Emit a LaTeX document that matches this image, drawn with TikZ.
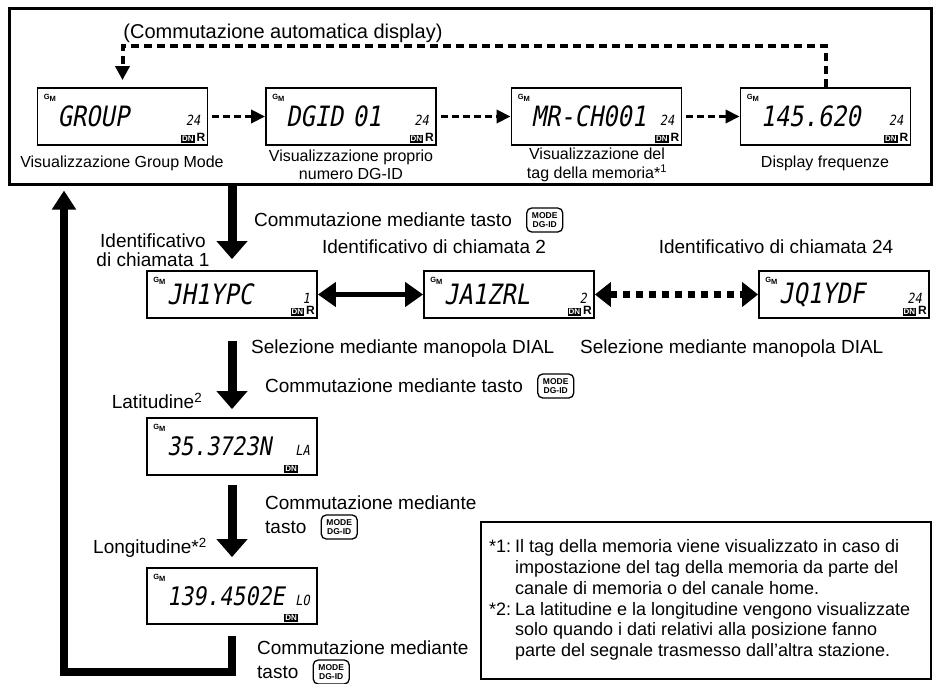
\documentclass[tikz,border=0pt]{standalone}
\usepackage{fontspec}
\setmainfont{Liberation Sans}
\newfontfamily\lcdfont{DejaVu Sans Mono}[FakeSlant=0.18, FakeStretch=0.85]
\usepackage{tikz}
\usetikzlibrary{arrows.meta, positioning}

\newcommand{\dnbox}{{\setlength{\fboxsep}{0.9pt}\colorbox{black}{\color{white}\fontsize{8}{8}\selectfont\bfseries DN}}}
\newcommand{\dnR}{\dnbox\hspace{2pt}{\fontsize{12}{12}\selectfont\bfseries R}}

\begin{document}
\begin{tikzpicture}[x=1pt, y=-1pt,
    lcd/.style={draw, line width=1.8pt, minimum height=57pt, text width=130pt, inner xsep=20pt, inner ysep=0pt, align=left, font=\lcdfont\fontsize{28}{28}\selectfont},
    lcdpos/.style={lcd, font=\lcdfont\fontsize{25.5}{25.5}\selectfont},
    lcdsmall/.style={inner sep=0pt, font=\lcdfont\fontsize{14}{14}\selectfont},
    gmicon/.style={inner sep=0pt, font=\fontsize{7.5}{7.5}\selectfont\bfseries},
    toplab/.style={inner sep=0pt, align=center, font=\fontsize{16}{18.5}\selectfont},
    lab/.style={inner sep=0pt, align=center, font=\fontsize{19}{19}\selectfont},
    keybox/.style={draw, rounded corners=5pt, line width=1.3pt, minimum width=36pt, minimum height=24pt, inner sep=0pt, align=center, font=\fontsize{8.5}{8.5}\selectfont\bfseries},
    notebox/.style={draw, line width=2.2pt, inner sep=0pt, minimum width=450pt, minimum height=157pt, font=\fontsize{18}{20.8}\selectfont},
    autoarr/.style={line width=3.5pt, dash pattern=on 7pt off 4pt, -{Triangle[length=14pt, width=13pt]}},
    loopline/.style={line width=4pt, dash pattern=on 8pt off 5pt, -{Triangle[length=14pt, width=14pt]}},
    bigarr/.style={line width=9pt, -{Triangle[length=18pt, width=30pt]}},
    retline/.style={line width=7.5pt, -{Triangle[length=19pt, width=23pt]}},
    dblarr/.style={line width=5pt, {Triangle[length=18pt, width=24pt]}-{Triangle[length=18pt, width=24pt]}},
    ddblarr/.style={line width=7pt, dash pattern=on 7pt off 6pt, {Triangle[length=16pt, width=24pt]}-{Triangle[length=16pt, width=24pt]}}
  ]
  \useasboundingbox (0,0) rectangle (939,683);

  % automatic display cycle
  \node[draw, line width=3pt, minimum width=922pt, minimum height=176pt, inner sep=0pt] (autobox) at (470,96) {};
  \node[inner sep=0pt, font=\fontsize{20}{22}\selectfont] (hdr) at (283,33) {(Commutazione automatica display)};

  \node[lcd] (d1) at (122.5,116.5) {GROUP};
  \node[lcd] (d2) at (351,116.5) {DGID 01};
  \node[lcd] (d3) at (596.5,116.5) {MR-CH001};
  \node[lcd] (d4) at (825.5,116.5) {145.620};

  \node[toplab] (d1lab) at (122,163) {Visualizzazione Group Mode};
  \node[toplab] (d2lab) at (351,165) {Visualizzazione proprio\\numero DG-ID};
  \node[toplab] (d3lab) at (597,165) {Visualizzazione del\\tag della memoria*\textsuperscript{1}};
  \node[toplab] (d4lab) at (825,163) {Display frequenze};

  \draw[autoarr, shorten <=4pt] (d1) -- (d2);
  \draw[autoarr, shorten <=4pt] (d2) -- (d3);
  \draw[autoarr, shorten <=4pt] (d3) -- (d4);
  \draw[loopline, shorten >=7pt] (d4.north) -- ++(0,-41) -| (d1.north);

  % call sign displays
  \node[lcd, minimum height=47pt] (ca) at (232,294.5) {JH1YPC};
  \node[lcd, minimum height=47pt] (cb) at (509,294.5) {JA1ZRL};
  \node[lcd, minimum height=47pt] (cc) at (844,294.5) {JQ1YDF};

  \node[lab] (c1) at (153,250) {Identificativo\\di chiamata 1};
  \node[lab] (c2) at (434,247) {Identificativo di chiamata 2};
  \node[lab] (c24) at (776,247) {Identificativo di chiamata 24};

  \node[lab, anchor=west] (sw1) at (254,220) {Commutazione mediante tasto};
  \node[keybox, right=14pt of sw1] (k1) {MODE\\DG-ID};

  \node[lab, anchor=west] (dial1) at (251,349) {Selezione mediante manopola DIAL};
  \node[lab, anchor=west] (dial2) at (580,349) {Selezione mediante manopola DIAL};

  \draw[dblarr] (ca) -- (cb);
  \draw[ddblarr] (cb) -- (cc);

  % position displays
  \node[lcdpos] (lat) at (232,446.5) {35.3723N};
  \node[lcdpos, minimum height=56pt] (lon) at (232,596) {139.4502E};

  \node[lab] (latlab) at (157,401) {Latitudine\textsuperscript{2}};
  \node[lab] (lonlab) at (150,548) {Longitudine*\textsuperscript{2}};

  \node[lab, anchor=west] (sw2) at (265,386) {Commutazione mediante tasto};
  \node[keybox, right=14pt of sw2] (k2) {MODE\\DG-ID};
  \node[lab, anchor=west] (sw3) at (265,503) {Commutazione mediante};
  \node[lab, anchor=west] (sw3b) at (265,527) {tasto};
  \node[keybox, right=14pt of sw3b] (k3) {MODE\\DG-ID};
  \node[lab, anchor=west] (sw4) at (257,648) {Commutazione mediante};
  \node[lab, anchor=west] (sw4b) at (257,672) {tasto};
  \node[keybox, right=14pt of sw4b] (k4) {MODE\\DG-ID};

  % LCD icons
  \foreach \p in {d1,d2,d3,d4,ca,cb,cc,lat,lon}
    \node[gmicon, anchor=north west] (\p-gm) at ([shift={(7pt,-7pt)}]\p.north west) {G\raisebox{-1.5pt}{M}};
  \foreach \p/\n in {d1/24,d2/24,d3/24,d4/24,ca/1,cb/2,cc/24,lat/LA,lon/LO}
    \node[lcdsmall, anchor=east] (\p-num) at ([shift={(-8pt,-4pt)}]\p.east) {\n};
  \foreach \p in {d1,d2,d3,d4,ca,cb,cc}
    \node[inner sep=0pt, anchor=south east] (\p-dn) at ([shift={(-3pt,3pt)}]\p.south east) {\dnR};
  \foreach \p in {lat,lon}
    \node[inner sep=0pt, anchor=south east] (\p-dn) at ([shift={(-20pt,3pt)}]\p.south east) {\dnbox};

  % main flow
  \draw[bigarr, shorten >=11pt] (autobox.south -| ca.north) -- (ca.north);
  \draw[bigarr, shorten <=22pt, shorten >=8pt] (ca) -- (lat);
  \draw[bigarr, shorten <=9pt, shorten >=10pt] (lat) -- (lon);
  \coordinate (retc) at (64,672);
  \draw[retline] ([yshift=-11pt]lon.south) |- (retc) -- ([yshift=-5pt]retc |- autobox.south);

  % notes
  \node[notebox] (notes) at (706,600.5) {\makebox[434pt][l]{\begin{tabular}{@{}l@{\hspace{4pt}}l@{}}
    {*}1: & Il tag della memoria viene visualizzato in caso di\\
        & impostazione del tag della memoria da parte del\\
        & canale di memoria o del canale home.\\
    {*}2: & La latitudine e la longitudine vengono visualizzate\\
        & solo quando i dati relativi alla posizione fanno\\
        & parte del segnale trasmesso dall'altra stazione.
  \end{tabular}}};
\end{tikzpicture}
\end{document}
